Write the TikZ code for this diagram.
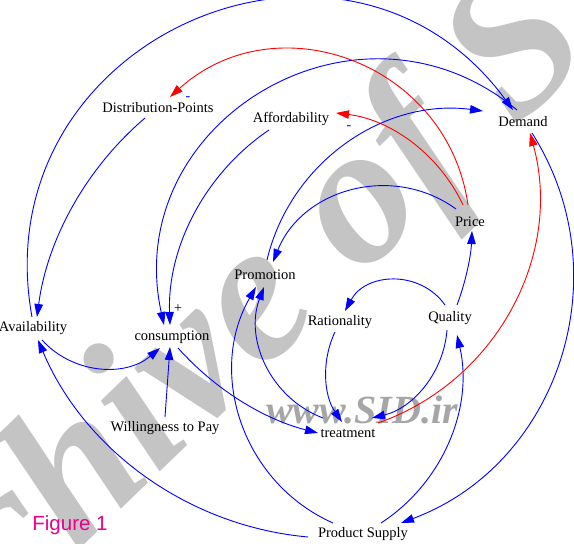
\documentclass[tikz,border=0pt]{standalone}
\usepackage{fontspec}
\setmainfont{Liberation Serif}
\newfontfamily\figfont{Liberation Sans}
\usetikzlibrary{arrows.meta}
\begin{document}
\begin{tikzpicture}[x=1pt,y=1pt,
  lbl/.style={font=\fontsize{14.5}{17}\selectfont, inner sep=1pt},
  link/.style={line width=0.9pt, -{Triangle[length=13pt,width=8.5pt]}},
  blink/.style={link, blue},
  rlink/.style={link, red},
  sign/.style={font=\fontsize{14}{14}\selectfont, inner sep=0pt},
  % circular-looking arc: bend angle #1 with matching looseness
  arcl/.code={\pgfmathsetmacro\arcloose{1.703/(1+cos(#1))}%
    \edef\arctmp{\noexpand\tikzset{bend left=#1,looseness=\arcloose}}\arctmp}
]
\useasboundingbox (0,0) rectangle (574,544);
\clip (0,0) rectangle (574,544);

% watermarks
\node[font=\fontsize{200}{200}\selectfont\bfseries\itshape, text=black!23,
      inner sep=0pt, rotate=44, anchor=base west] (wmbig) at (-139,-217) {Archive of SID};
\node[font=\fontsize{40}{40}\selectfont\bfseries\itshape, text=black!35,
      inner sep=0pt] (wmweb) at (362,134) {www.SID.ir};

% variables
\node[lbl] (dp) at (158,436) {Distribution-Points};
\node[lbl] (af) at (291,425) {Affordability};
\node[lbl] (de) at (523,422) {Demand};
\node[lbl] (pr) at (470,322) {Price};
\node[lbl] (pm) at (265,269) {Promotion};
\node[lbl] (av) at (33,216) {Availability};
\node[lbl] (co) at (172,207) {consumption};
\node[lbl] (ra) at (340,222) {Rationality};
\node[lbl] (qu) at (450,226) {Quality};
\node[lbl] (wp) at (165,116) {Willingness to Pay};
\node[lbl] (tr) at (348,111) {treatment};
\node[lbl] (ps) at (363,10) {Product Supply};

% polarity marks
\node[sign] (plus) at (178,235) {+};
\node[sign, text=blue] (m1) at (188,445) {-};
\node[sign, text=blue] (m2) at (349,416) {-};

% links
\draw[blink] ([shift={(-1,11)}]av.center) to[arcl=77] ([shift={(-10,12)}]de.center);
\draw[blink] ([shift={(-6,12)}]de.center) to[arcl=-71] ([shift={(-8,12)}]co.center);
\draw[blink] ([shift={(-22,-11)}]af.center) to[arcl=-29] ([shift={(-2,12)}]co.center);
\draw[blink] ([shift={(-13,-10)}]dp.center) to[arcl=-21] ([shift={(4,11)}]av.center);
\draw[rlink] ([shift={(-2,17)}]pr.center) to[arcl=-62] ([shift={(12,11)}]dp.center);
\draw[rlink] ([shift={(-7,17)}]pr.center) to[arcl=-29] ([shift={(45,6)}]af.center);
\draw[blink] ([shift={(2,15)}]pm.center) to[arcl=42] ([shift={(-40,11)}]de.center);
\draw[blink] ([shift={(-14,13)}]pr.center) to[arcl=-52] ([shift={(8,13)}]pm.center);
\draw[blink] ([shift={(9,-12)}]av.center) to[arcl=-44] ([shift={(-12,-11)}]co.center);
\draw[blink] ([shift={(0,11)}]wp.center) -- ([shift={(-2,-10)}]co.center);
\draw[blink] ([shift={(6,-11)}]co.center) to[arcl=-17] ([shift={(-30,0)}]tr.center);
\draw[blink] ([shift={(-55,-3)}]ps.center) to[arcl=31] ([shift={(5,-12)}]av.center);
\draw[blink] ([shift={(-30,11)}]ps.center) to[arcl=48] ([shift={(-9,-12)}]pm.center);
\draw[blink] ([shift={(-25,15)}]tr.center) to[arcl=45] ([shift={(-1,-12)}]pm.center);
\draw[blink] ([shift={(-5,-10)}]ra.center) to[arcl=-30] ([shift={(-6,11)}]tr.center);
\draw[blink] ([shift={(-3,-12)}]qu.center) to[arcl=36] ([shift={(24,15)}]tr.center);
\draw[blink] ([shift={(-5,13)}]qu.center) to[arcl=-58] ([shift={(5,11)}]ra.center);
\draw[blink] ([shift={(7,13)}]qu.center) to[arcl=-9] ([shift={(2,-9)}]pr.center);
\draw[blink] ([shift={(18,11)}]ps.center) to[arcl=-35] ([shift={(7,-17)}]qu.center);
\draw[rlink] ([shift={(30,10)}]tr.center) to[arcl=-43] ([shift={(7,-11)}]de.center);
\draw[blink] ([shift={(9,-11)}]de.center) to[arcl=51] ([shift={(38,11)}]ps.center);

% caption
\node[text=magenta, font=\figfont\fontsize{20.5}{22}\selectfont, inner sep=0pt] (fig) at (70,19) {Figure 1};
\end{tikzpicture}
\end{document}
